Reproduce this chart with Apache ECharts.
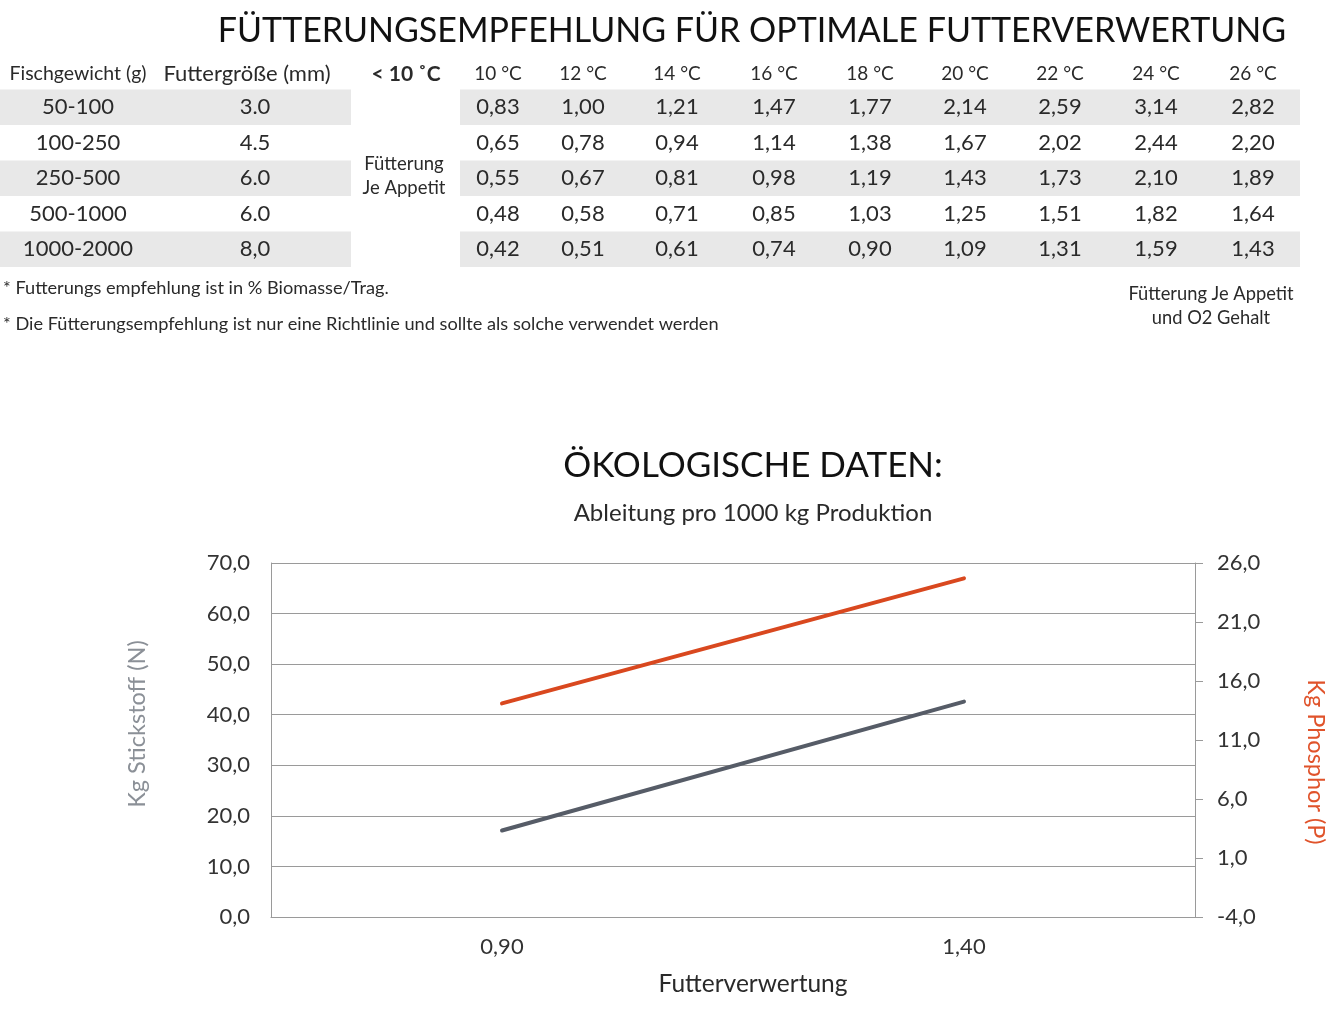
<!DOCTYPE html>
<html>
<head>
<meta charset="utf-8">
<script src="https://cdn.jsdelivr.net/npm/echarts@6/dist/echarts.min.js"></script>
<style>
html,body{margin:0;padding:0;background:#fff;}
#main{width:1334px;height:1014px;}
</style>
</head>
<body>
<div id="main"></div>
<script>
// ---------- Table data ----------
const weightClasses = ['50-100', '100-250', '250-500', '500-1000', '1000-2000'];
const pelletSizes = ['3.0', '4.5', '6.0', '6.0', '8,0'];
const tempLabels = ['10 °C', '12 °C', '14 °C', '16 °C', '18 °C', '20 °C', '22 °C', '24 °C', '26 °C'];
const rate50_100 = [0.83, 1.00, 1.21, 1.47, 1.77, 2.14, 2.59, 3.14, 2.82];
const rate100_250 = [0.65, 0.78, 0.94, 1.14, 1.38, 1.67, 2.02, 2.44, 2.20];
const rate250_500 = [0.55, 0.67, 0.81, 0.98, 1.19, 1.43, 1.73, 2.10, 1.89];
const rate500_1000 = [0.48, 0.58, 0.71, 0.85, 1.03, 1.25, 1.51, 1.82, 1.64];
const rate1000_2000 = [0.42, 0.51, 0.61, 0.74, 0.90, 1.09, 1.31, 1.59, 1.43];

// ---------- Chart data ----------
const feedConversion = ['0,90', '1,40'];
const nitrogenKg = [17.1, 42.6];
const phosphorKg = [14.1, 24.7];
const nitrogenTicks = [0, 10, 20, 30, 40, 50, 60, 70];
const phosphorTicks = [-4, 1, 6, 11, 16, 21, 26];

const rateRows = [rate50_100, rate100_250, rate250_500, rate500_1000, rate1000_2000];
const comma = (v, d) => v.toFixed(d).replace('.', ',');

// layout of table columns (pixel centres)
const FONT = 'Lato, "Noto Sans", sans-serif';
const colWeight = 78, colPellet = 255, colPelletHead = 247, colCold = 406;
const tempCols = [498, 583, 677, 774, 870, 965, 1060, 1156, 1253];

const cells = [];
cells.push({ value: [colWeight, 0], text: 'Fischgewicht (g)', size: 19.5, weight: 'normal', dy: 2 });
cells.push({ value: [colPelletHead, 0], text: 'Futtergröße (mm)', size: 22, weight: 'normal', dy: 2 });
cells.push({ value: [colCold, 0], text: '< 10 ˚C', size: 21, weight: 'bold', dy: 2 });
tempLabels.forEach((t, i) => cells.push({ value: [tempCols[i], 0], text: t, size: 19, weight: 'normal', dy: 2 }));
weightClasses.forEach((w, r) => {
  cells.push({ value: [colWeight, r + 1], text: w, size: 22, weight: 'normal', dy: 0 });
  cells.push({ value: [colPellet, r + 1], text: pelletSizes[r], size: 22, weight: 'normal', dy: 0 });
  rateRows[r].forEach((v, i) => cells.push({ value: [tempCols[i], r + 1], text: comma(v, 2), size: 22, weight: 'normal', dy: 0 }));
});
const bandRows = [1, 3, 5].map(r => [0, r]);

const chart = echarts.init(document.getElementById('main'), null, { renderer: 'canvas' });

const txt = (x, y, text, size, opts) => Object.assign({
  type: 'text', x: x, y: y,
  style: { text: text, fill: '#2a2a2a', align: 'center', verticalAlign: 'middle', font: 'normal ' + size + 'px ' + FONT }
}, opts || {});

const option = {
  backgroundColor: '#fff',
  animation: false,
  textStyle: { fontFamily: FONT },
  grid: [
    { left: 271, right: 139, top: 563, bottom: 97 },
    { left: 0, right: 0, top: 54, height: 213 }
  ],
  xAxis: [
    {
      gridIndex: 0, type: 'category', data: feedConversion, boundaryGap: true,
      axisLine: { show: true, lineStyle: { color: '#9a9a9a', width: 1 } },
      axisTick: { show: false },
      axisLabel: { color: '#333', fontSize: 22, fontFamily: FONT, margin: 19 },
      splitLine: { show: false }
    },
    { gridIndex: 1, type: 'value', min: 0, max: 1334, show: false }
  ],
  yAxis: [
    {
      gridIndex: 0, type: 'value', min: nitrogenTicks[0], max: nitrogenTicks[nitrogenTicks.length - 1], interval: 10, position: 'left',
      axisLine: { show: true, lineStyle: { color: '#9a9a9a', width: 1 } },
      axisTick: { show: false },
      axisLabel: { color: '#333', fontSize: 22, fontFamily: FONT, margin: 21, formatter: v => comma(v, 1) },
      splitLine: { show: true, lineStyle: { color: '#9a9a9a', width: 1 } }
    },
    {
      gridIndex: 0, type: 'value', min: phosphorTicks[0], max: phosphorTicks[phosphorTicks.length - 1], position: 'right',
      axisLine: { show: true, lineStyle: { color: '#9a9a9a', width: 1 } },
      axisTick: { show: true, length: 8, customValues: phosphorTicks, lineStyle: { color: '#9a9a9a' } },
      axisLabel: { color: '#333', fontSize: 22, fontFamily: FONT, margin: 22, customValues: phosphorTicks, formatter: v => comma(v, 1) },
      splitLine: { show: false }
    },
    { gridIndex: 1, type: 'category', data: [''].concat(weightClasses), inverse: true, show: false }
  ],
  series: [
    {
      name: 'Stickstoff', type: 'line', xAxisIndex: 0, yAxisIndex: 0, data: nitrogenKg,
      symbol: 'none', lineStyle: { color: '#565c67', width: 4, cap: 'round' }, itemStyle: { color: '#565c67' }
    },
    {
      name: 'Phosphor', type: 'line', xAxisIndex: 0, yAxisIndex: 1, data: phosphorKg,
      symbol: 'none', lineStyle: { color: '#d9481f', width: 4, cap: 'round' }, itemStyle: { color: '#d9481f' }
    },
    {
      type: 'custom', xAxisIndex: 1, yAxisIndex: 2, data: bandRows, silent: true, z: 1,
      renderItem: function (params, api) {
        const row = api.value(1);
        const h = api.size([0, 1])[1];
        const p0 = api.coord([0, row]);
        const l1 = api.coord([351, row])[0];
        const r0 = api.coord([460, row])[0];
        const r1 = api.coord([1300, row])[0];
        const y = p0[1] - h / 2;
        return {
          type: 'group', children: [
            { type: 'rect', shape: { x: p0[0], y: y, width: l1 - p0[0], height: h }, style: { fill: '#e8e8e8' } },
            { type: 'rect', shape: { x: r0, y: y, width: r1 - r0, height: h }, style: { fill: '#e8e8e8' } }
          ]
        };
      }
    },
    {
      type: 'custom', xAxisIndex: 1, yAxisIndex: 2, data: cells, silent: true, z: 2,
      renderItem: function (params, api) {
        const c = cells[params.dataIndex];
        const p = api.coord([api.value(0), api.value(1)]);
        return {
          type: 'text', x: p[0], y: p[1] + c.dy,
          style: {
            text: c.text, fill: '#2a2a2a', align: 'center', verticalAlign: 'middle',
            font: c.weight + ' ' + c.size + 'px ' + FONT
          }
        };
      }
    }
  ],
  graphic: [
    txt(752, 31, 'FÜTTERUNGSEMPFEHLUNG FÜR OPTIMALE FUTTERVERWERTUNG', 34, { style: { text: 'FÜTTERUNGSEMPFEHLUNG FÜR OPTIMALE FUTTERVERWERTUNG', fill: '#111', align: 'center', verticalAlign: 'middle', font: 'normal 34px ' + FONT } }),
    txt(404, 164, 'Fütterung', 18.5),
    txt(404, 188, 'Je Appetit', 18.5),
    { type: 'text', x: 3, y: 288, style: { text: '* Futterungs empfehlung ist in % Biomasse/Trag.', fill: '#2a2a2a', align: 'left', verticalAlign: 'middle', font: 'normal 18.2px ' + FONT } },
    { type: 'text', x: 3, y: 324, style: { text: '* Die Fütterungsempfehlung ist nur eine Richtlinie und sollte als solche verwendet werden', fill: '#2a2a2a', align: 'left', verticalAlign: 'middle', font: 'normal 18.2px ' + FONT } },
    txt(1211, 294, 'Fütterung Je Appetit', 18.3),
    txt(1211, 318, 'und O2 Gehalt', 18.3),
    { type: 'text', x: 753, y: 466, style: { text: 'ÖKOLOGISCHE DATEN:', fill: '#111', align: 'center', verticalAlign: 'middle', font: 'normal 35px ' + FONT } },
    txt(753, 513, 'Ableitung pro 1000 kg Produktion', 24),
    txt(753, 984, 'Futterverwertung', 24.5),
    { type: 'text', x: 137, y: 724, rotation: Math.PI / 2, style: { text: 'Kg Stickstoff (N)', fill: '#8b9097', align: 'center', verticalAlign: 'middle', font: 'normal 23.5px ' + FONT } },
    { type: 'text', x: 1316, y: 762, rotation: -Math.PI / 2, style: { text: 'Kg Phosphor (P)', fill: '#e0532b', align: 'center', verticalAlign: 'middle', font: 'normal 23.5px ' + FONT } }
  ]
};
chart.setOption(option);
</script>
</body>
</html>
